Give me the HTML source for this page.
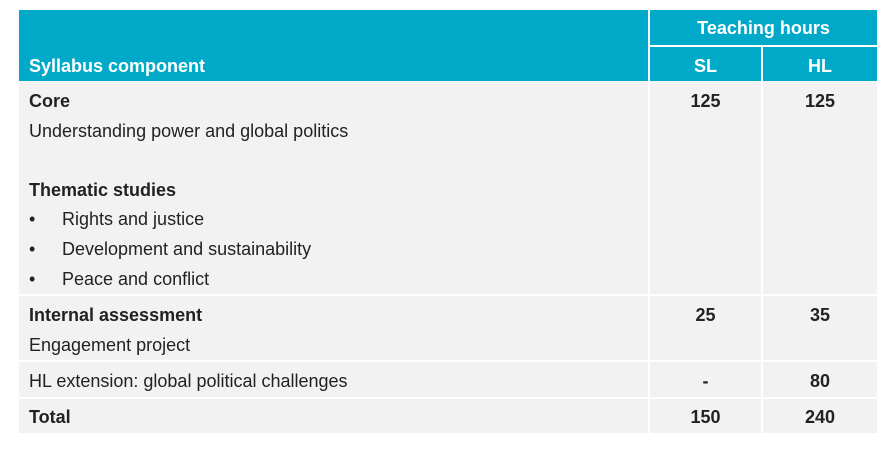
<!DOCTYPE html>
<html><head><meta charset="utf-8"><style>
body{margin:0;width:895px;height:457px;background:#fff;position:relative;overflow:hidden;font-family:"Liberation Sans Narrow","Liberation Sans",sans-serif;}
.b{position:absolute;}
.hd{background:#00a9c8;}
.bd{background:#f2f2f2;}
.t{position:absolute;font-size:18px;color:#222;white-space:nowrap;line-height:20px;}
.w{color:#fff;font-weight:bold;font-size:18px;}
.bo{font-weight:bold;}
.c{text-align:center;}
</style></head><body>
<div class="b hd" style="left:19px;top:10px;width:629px;height:71px"></div>
<div class="b hd" style="left:650px;top:10px;width:227px;height:35px"></div>
<div class="b hd" style="left:650px;top:47px;width:111px;height:34px"></div>
<div class="b hd" style="left:763px;top:47px;width:114px;height:34px"></div>
<div class="b bd" style="left:19px;top:81px;width:629px;height:213px"></div>
<div class="b bd" style="left:650px;top:81px;width:111px;height:213px"></div>
<div class="b bd" style="left:763px;top:81px;width:114px;height:213px"></div>
<div class="b bd" style="left:19px;top:296px;width:629px;height:64px"></div>
<div class="b bd" style="left:650px;top:296px;width:111px;height:64px"></div>
<div class="b bd" style="left:763px;top:296px;width:114px;height:64px"></div>
<div class="b bd" style="left:19px;top:362px;width:629px;height:35px"></div>
<div class="b bd" style="left:650px;top:362px;width:111px;height:35px"></div>
<div class="b bd" style="left:763px;top:362px;width:114px;height:35px"></div>
<div class="b bd" style="left:19px;top:399px;width:629px;height:34px"></div>
<div class="b bd" style="left:650px;top:399px;width:111px;height:34px"></div>
<div class="b bd" style="left:763px;top:399px;width:114px;height:34px"></div>

<div class="t w c" style="left:650px;top:18px;width:227px">Teaching hours</div>
<div class="t w" style="left:29px;top:56px">Syllabus component</div>
<div class="t w c" style="left:650px;top:56px;width:111px">SL</div>
<div class="t w c" style="left:763px;top:56px;width:114px">HL</div>

<div class="t bo" style="left:29px;top:91px">Core</div>
<div class="t" style="left:29px;top:121px">Understanding power and global politics</div>
<div class="t bo" style="left:29px;top:180px">Thematic studies</div>
<div class="t" style="left:29px;top:209px">•</div><div class="t" style="left:62px;top:209px">Rights and justice</div>
<div class="t" style="left:29px;top:239px">•</div><div class="t" style="left:62px;top:239px">Development and sustainability</div>
<div class="t" style="left:29px;top:269px">•</div><div class="t" style="left:62px;top:269px">Peace and conflict</div>
<div class="t bo c" style="left:650px;top:91px;width:111px">125</div>
<div class="t bo c" style="left:763px;top:91px;width:114px">125</div>

<div class="t bo" style="left:29px;top:305px">Internal assessment</div>
<div class="t" style="left:29px;top:335px">Engagement project</div>
<div class="t bo c" style="left:650px;top:305px;width:111px">25</div>
<div class="t bo c" style="left:763px;top:305px;width:114px">35</div>

<div class="t" style="left:29px;top:371px">HL extension: global political challenges</div>
<div class="t bo c" style="left:650px;top:371px;width:111px">-</div>
<div class="t bo c" style="left:763px;top:371px;width:114px">80</div>

<div class="t bo" style="left:29px;top:407px">Total</div>
<div class="t bo c" style="left:650px;top:407px;width:111px">150</div>
<div class="t bo c" style="left:763px;top:407px;width:114px">240</div>
</body></html>
